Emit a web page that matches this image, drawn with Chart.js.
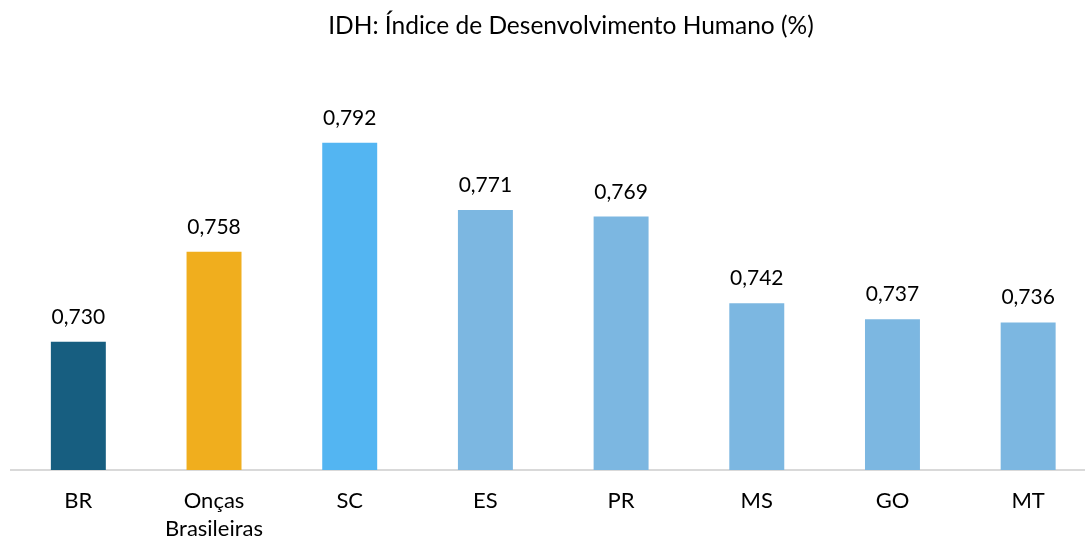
<!DOCTYPE html>
<html>
<head>
<meta charset="utf-8">
<script src="https://cdn.jsdelivr.net/npm/chart.js@4/dist/chart.umd.min.js"></script>
<style>
  html, body { margin: 0; padding: 0; background: #fff; overflow: hidden; }
  #wrap { width: 1100px; height: 560px; }
</style>
</head>
<body>
<div id="wrap"><canvas id="chart"></canvas></div>
<script>
const categories = ['BR', ['Onças', 'Brasileiras'], 'SC', 'ES', 'PR', 'MS', 'GO', 'MT'];
const idhValues = [0.730, 0.758, 0.792, 0.771, 0.769, 0.742, 0.737, 0.736];
const barColors = ['#175e80', '#f0ae1e', '#53b5f2', '#7cb7e1', '#7cb7e1', '#7cb7e1', '#7cb7e1', '#7cb7e1'];
const titleText = 'IDH: Índice de Desenvolvimento Humano (%)';

const FONT = 'Lato, "Noto Sans", sans-serif';

// value labels above each bar, pt-BR decimal comma
const valueLabels = {
  id: 'valueLabels',
  afterDatasetsDraw(chart) {
    const ctx = chart.ctx;
    const meta = chart.getDatasetMeta(0);
    ctx.save();
    ctx.font = '21px ' + FONT;
    ctx.fillStyle = '#000';
    ctx.textAlign = 'center';
    ctx.textBaseline = 'alphabetic';
    meta.data.forEach((bar, i) => {
      ctx.fillText(idhValues[i].toFixed(3).replace('.', ','), bar.x, bar.y - 18);
    });
    ctx.restore();
  }
};

// title, drawn a bit right of centre like the original
const titlePlugin = {
  id: 'titlePlugin',
  afterDraw(chart) {
    const ctx = chart.ctx;
    ctx.save();
    ctx.font = '24.5px ' + FONT;
    ctx.fillStyle = '#000';
    ctx.textAlign = 'center';
    ctx.textBaseline = 'alphabetic';
    ctx.fillText(titleText, 571, 34);
    ctx.restore();
  }
};

new Chart(document.getElementById('chart'), {
  type: 'bar',
  data: {
    labels: categories,
    datasets: [{
      data: idhValues,
      backgroundColor: barColors,
      barPercentage: 0.405,
      categoryPercentage: 1.0
    }]
  },
  options: {
    responsive: true,
    maintainAspectRatio: false,
    animation: false,
    layout: { padding: { left: 10.5, right: 4, top: 117, bottom: 0 } },
    plugins: {
      legend: { display: false },
      tooltip: { enabled: false },
      title: { display: false }
    },
    scales: {
      x: {
        grid: { display: false, drawTicks: false },
        border: { display: true, color: '#d9d9d9', width: 2 },
        ticks: {
          color: '#000',
          padding: 17,
          font: { family: FONT, size: 22, lineHeight: 1.27 }
        }
      },
      y: {
        display: false,
        min: 0.69,
        max: 0.80
      }
    }
  },
  plugins: [valueLabels, titlePlugin]
});
</script>
</body>
</html>
